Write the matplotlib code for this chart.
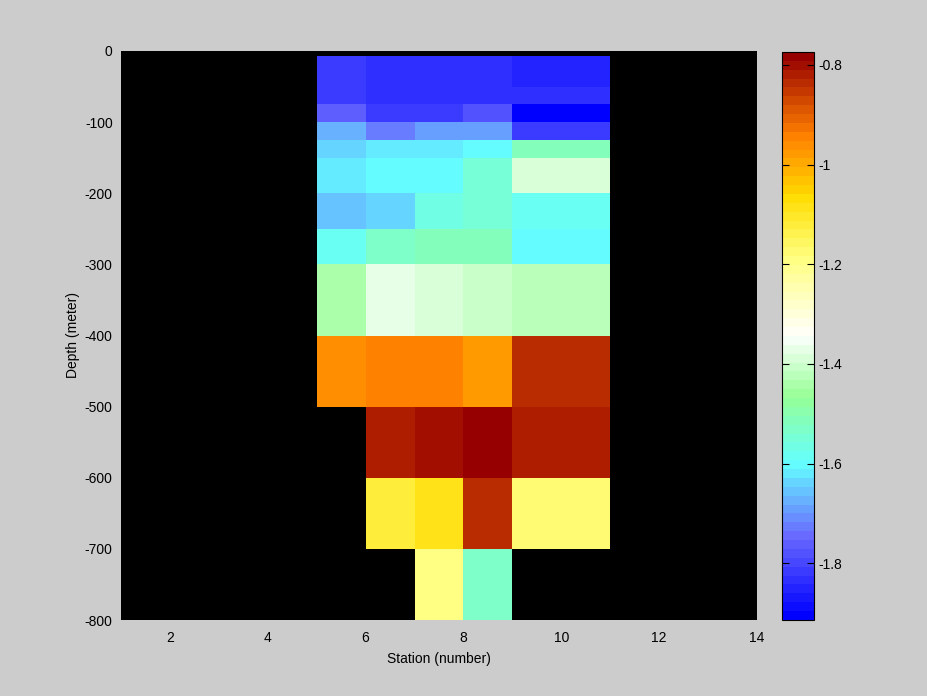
#!/usr/bin/env python3
"""Depth section of a property along stations, pcolor style with 64-band colormap."""

import numpy as np
import matplotlib
matplotlib.use("Agg")
import matplotlib.pyplot as plt
from matplotlib.colors import LinearSegmentedColormap, ListedColormap

# cell edges
station_edges = [5, 6, 7, 8, 9, 11]
depth_edges = [-7, -50, -75, -100, -125, -150, -200, -250, -300, -400, -500, -600, -700, -800]

# values per depth layer (rows, top to bottom), per station cell (columns)
nan = np.nan
values = [
    [-1.823, -1.841, -1.841, -1.841, -1.859],
    [-1.823, -1.841, -1.841, -1.841, -1.841],
    [-1.756, -1.817, -1.817, -1.777, -1.914],
    [-1.679, -1.719, -1.699, -1.699, -1.817],
    [-1.638, -1.623, -1.623, -1.603, -1.521],
    [-1.623, -1.603, -1.603, -1.546, -1.386],
    [-1.659, -1.638, -1.565, -1.546, -1.578],
    [-1.578, -1.533, -1.514, -1.514, -1.603],
    [-1.441, -1.370, -1.388, -1.406, -1.424],
    [-0.960, -0.942, -0.942, -0.984, -0.832],
    [nan, -0.812, -0.796, -0.776, -0.812],
    [nan, -1.122, -1.090, -0.832, -1.172],
    [nan, nan, -1.184, -1.533, nan],
]

cbar_ticks = [-1.8, -1.6, -1.4, -1.2, -1.0, -0.8]
cbar_labels = ["-1.8", "-1.6", "-1.4", "-1.2", "-1", "-0.8"]
xticks = [2, 4, 6, 8, 10, 12, 14]
yticks = [0, -100, -200, -300, -400, -500, -600, -700, -800]

anchors = [
    (0.0, (0, 0, 255)),
    (0.14, (105, 105, 255)),
    (0.273, (100, 255, 255)),
    (0.39, (150, 255, 150)),
    (0.5, (255, 255, 255)),
    (0.64, (255, 255, 128)),
    (0.75, (255, 220, 0)),
    (0.86, (255, 128, 0)),
    (1.0, (150, 0, 0)),
]
smooth = LinearSegmentedColormap.from_list(
    "sect", [(f, tuple(c / 255 for c in rgb)) for f, rgb in anchors])
cmap = ListedColormap(smooth(np.linspace(0, 1, 64)))

plt.rcParams["font.family"] = ["Liberation Sans", "DejaVu Sans"]
plt.rcParams["axes.unicode_minus"] = False

fig = plt.figure(figsize=(9.28, 6.96), dpi=100, facecolor="#cccccc")
ax = fig.add_axes([121 / 928, 76 / 696, 636 / 928, 569 / 696])
cax = fig.add_axes([782 / 928, 76 / 696, 32 / 928, 568 / 696])

C = np.ma.masked_invalid(np.array(values))
mesh = ax.pcolormesh(station_edges, depth_edges, C, cmap=cmap,
                     vmin=-1.914, vmax=-0.774, shading="flat")
ax.set_facecolor("black")
ax.set_xlim(1, 14)
ax.set_ylim(-800, 0)
ax.set_xticks(xticks)
ax.set_yticks(yticks)
ax.set_yticklabels([str(t) for t in yticks])
ax.tick_params(axis="both", length=0, labelsize=10)
ax.tick_params(axis="y", pad=6)
ax.tick_params(axis="x", pad=8)
for s in ax.spines.values():
    s.set_visible(False)
ax.set_xlabel("Station (number)", fontsize=10, labelpad=5)
ax.set_ylabel("Depth (meter)", fontsize=10, labelpad=3)

cb = fig.colorbar(mesh, cax=cax)
cb.set_ticks(cbar_ticks)
cb.set_ticklabels(cbar_labels)
cax.tick_params(direction="in", length=5, labelsize=10, left=True, right=True, pad=3)
cb.outline.set_linewidth(0.8)

fig.savefig("out.png", dpi=100, facecolor=fig.get_facecolor())
